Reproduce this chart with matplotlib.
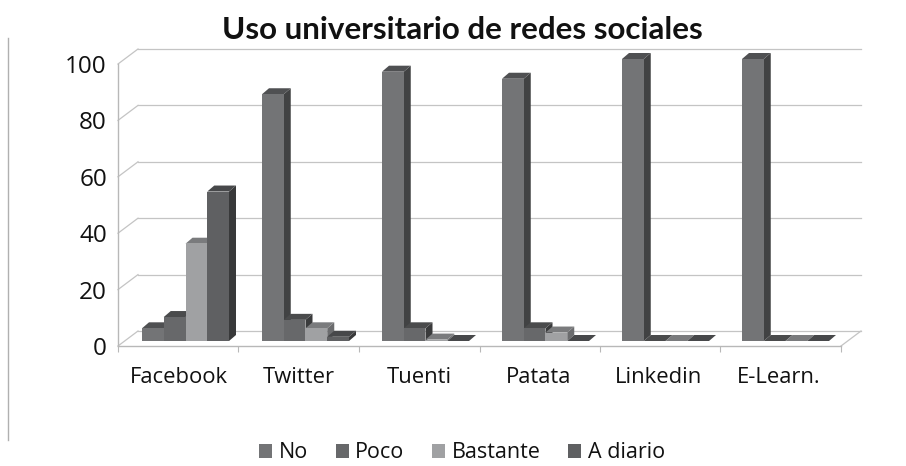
import matplotlib
matplotlib.use('Agg')
import matplotlib.pyplot as plt
from matplotlib.lines import Line2D
from matplotlib.patches import Patch, Polygon

plt.rcParams['font.family'] = ['Open Sans', 'DejaVu Sans']

categories = ['Facebook', 'Twitter', 'Tuenti', 'Patata', 'Linkedin', 'E-Learn.']
no = [4.5, 87.5, 95.5, 93, 100, 100]
poco = [8.5, 7.5, 4.5, 4.5, 0, 0]
bastante = [34.5, 4.5, 0.5, 3, 0, 0]
a_diario = [53, 1.5, 0, 0, 0, 0]
y_ticks = [0, 20, 40, 60, 80, 100]

names = ['No', 'Poco', 'Bastante', 'A diario']
series = [no, poco, bastante, a_diario]
front_cols = ['#737476', '#67686a', '#a0a1a3', '#5f6062']
side_cols = ['#414243', '#3a3b3c', '#6b6c6e', '#38393a']
top_cols = ['#4f5052', '#4a4b4c', '#7a7b7d', '#47484a']

W, H = 906, 466
fig = plt.figure(figsize=(W / 100, H / 100), dpi=100)
ax = fig.add_axes([118 / W, 1 - 346 / H, 723 / W, 298 / H])

# pixel sizes turned into data units
px_x = 6.025 / 723
px_y = 1 / 2.82
ax.set_xlim(0, 6.025)
ax.set_ylim(0, 298 * px_y)

wall_dx, wall_dy = 20 * px_x, 15 * px_y
floor = 5 * px_y
depth_x, depth_y = 7 * px_x, 6 * px_y
bar_w = 21.75 * px_x
group_start = 24 * px_x

grid = '#c4c4c4'
for v in y_ticks:
    ax.plot([0, wall_dx], [v, v + wall_dy], color=grid, lw=0.9, clip_on=False, zorder=1)
    ax.plot([wall_dx, 6.025 + wall_dx], [v + wall_dy, v + wall_dy], color=grid, lw=0.9,
            clip_on=False, zorder=1)
ax.plot([6.025, 6.025 + wall_dx], [0, wall_dy], color=grid, lw=0.9, clip_on=False, zorder=1)

z = 2
for i in range(len(categories)):
    for j, vals in enumerate(series):
        x0 = i + group_start + j * bar_w
        x1 = x0 + bar_w
        top = floor + vals[i]
        side = [(x1, floor), (x1 + depth_x, floor + depth_y),
                (x1 + depth_x, top + depth_y), (x1, top)]
        lid = [(x0, top), (x1, top), (x1 + depth_x, top + depth_y), (x0 + depth_x, top + depth_y)]
        ax.add_patch(Polygon(side, closed=True, fc=side_cols[j], ec='none', zorder=z))
        ax.add_patch(Polygon(lid, closed=True, fc=top_cols[j], ec='none', zorder=z))
        ax.bar(x0, vals[i], bar_w, bottom=floor, align='edge', color=front_cols[j], zorder=z + 1)
        z += 2

for s in ['top', 'right']:
    ax.spines[s].set_visible(False)
for s in ['left', 'bottom']:
    ax.spines[s].set_color('#b8b8b8')
    ax.spines[s].set_linewidth(1)
ax.spines['left'].set_bounds(0, 100)

ax.set_yticks(y_ticks)
ax.tick_params(axis='y', length=0, labelsize=17.5, pad=8, labelcolor='#111111')
ax.set_xticks([i * 6.025 / 6 for i in range(7)])
ax.set_xticklabels([])
ax.tick_params(axis='x', which='major', length=4.5, color='#b8b8b8')
ax.set_xticks([i + 0.508 for i in range(6)], minor=True)
ax.set_xticklabels(categories, minor=True)
ax.tick_params(axis='x', which='minor', length=0, labelsize=15.8, pad=15, labelcolor='#111111')

fig.text(462 / W, 1 - 30 / H, 'Uso universitario de redes sociales', ha='center', va='center',
         fontsize=22.6, fontweight='bold', color='#111111', family=['Lato', 'DejaVu Sans'])

handles = [Patch(fc=c, ec='none') for c in front_cols]
fig.legend(handles, names, ncol=4, loc='center', bbox_to_anchor=(462 / W, 1 - 453 / H),
           frameon=False, fontsize=15.5, handlelength=0.6, handleheight=0.6,
           handletextpad=0.3, columnspacing=1.3, labelcolor='#111111')

# rule at the left margin of the page
fig.add_artist(Line2D([8 / W, 8 / W], [1 - 38 / H, 1 - 440 / H], color='#b0b0b0', lw=1))

fig.savefig('out.png', dpi=100)
